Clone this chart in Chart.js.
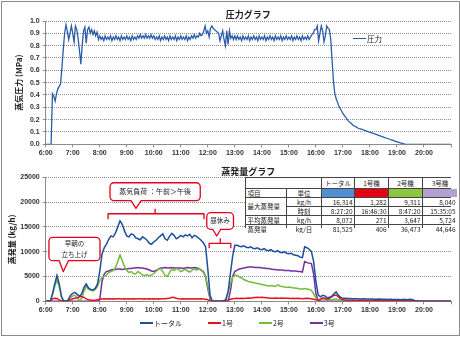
<!DOCTYPE html>
<html lang="ja">
<head>
<meta charset="utf-8">
<title>圧力グラフ・蒸発量グラフ</title>
<script src="https://cdn.jsdelivr.net/npm/chart.js@4.4.1/dist/chart.umd.min.js"></script>
<style>
  body { margin: 0; background: #fff; }
  #frame { position: relative; width: 460px; height: 337px; overflow: hidden; background: #fff;
           font-family: 'Noto Sans CJK JP', sans-serif; color: #222; }
  #frame::after { content: ''; position: absolute; left: 1px; top: 1px; width: 459px; height: 335px;
                  box-sizing: border-box; border: 1px solid #8a8a8a; pointer-events: none; }
  canvas { position: absolute; left: 0; }
  #pressureChart { top: 0; }
  #steamChart { top: 160px; }
  .legend { position: absolute; display: flex; align-items: center; white-space: nowrap; font-size: 7px; }
  .legend .item { display: flex; align-items: center; }
  .legend .swatch { width: 13px; height: 1.5px; margin-right: 1px; }
  #pressureLegend { left: 353px; top: 33px; font-size: 7.5px; }
  #steamLegend { left: 140px; top: 318px; gap: 26px; }
  /* summary table, built as a grid so the row pitch stays exact */
  #stats { position: absolute; left: 245px; top: 177px; width: 206px; height: 51px; display: grid;
           grid-template-columns: 40px 34px 32px 33px 33px 34px;
           grid-template-rows: 10px 8px 8px 8px 8px 8px;
           background: #444; gap: 1px; padding: 1px 1px 0 1px; box-sizing: border-box;
           font-size: 6.5px; line-height: 7px; }
  #stats div { background: #fff; padding: 0 1.5px; white-space: nowrap; overflow: hidden;
               display: flex; align-items: center; }
  #stats div.c { justify-content: center; }
  #stats div.n { justify-content: flex-end; }
</style>
</head>
<body>
<div id="frame">
  <canvas id="pressureChart" width="460" height="160"></canvas>
  <canvas id="steamChart" width="460" height="177"></canvas>
  <div id="pressureLegend" class="legend"></div>
  <div id="steamLegend" class="legend"></div>
  <div id="stats"></div>
</div>
<script>
// x axis: hours of the day
const hourLabels = ['6:00', '7:00', '8:00', '9:00', '10:00', '11:00', '12:00', '13:00',
                    '14:00', '15:00', '16:00', '17:00', '18:00', '19:00', '20:00'];

// 蒸気圧力 (MPa), one reading every 3 minutes from 6:00 to 21:00
const pressure = [
  0, 0, 0, 0, 0, 0.41, 0.39, 0.35, 0.41, 0.45, 0.47, 0.49, 0.62, 0.77, 0.90, 0.97, 0.92, 0.85, 0.90, 0.96,          // 6時
  0.90, 0.83, 0.96, 0.93, 0.86, 0.76, 0.65, 0.80, 0.92, 0.95, 0.82, 0.93, 0.95, 0.90, 0.93, 0.89, 0.92, 0.88, 0.91, 0.85, // 7時
  0.88, 0.85, 0.87, 0.84, 0.88, 0.85, 0.87, 0.85, 0.88, 0.84, 0.87, 0.85, 0.88, 0.85, 0.87, 0.84, 0.88, 0.85, 0.87, 0.85, // 8時
  0.88, 0.85, 0.87, 0.84, 0.88, 0.85, 0.87, 0.85, 0.88, 0.86, 0.89, 0.86, 0.88, 0.86, 0.89, 0.86, 0.88, 0.86, 0.89, 0.86, // 9時
  0.88, 0.85, 0.87, 0.85, 0.88, 0.84, 0.87, 0.85, 0.88, 0.85, 0.87, 0.84, 0.88, 0.85, 0.87, 0.85, 0.88, 0.84, 0.87, 0.85, // 10時
  0.88, 0.85, 0.87, 0.85, 0.88, 0.84, 0.87, 0.85, 0.88, 0.86, 0.89, 0.86, 0.88, 0.87, 0.90, 0.88, 0.89, 0.92, 0.96, 0.90, // 11時
  0.92, 0.87, 0.94, 0.96, 0.94, 0.93, 0.92, 0.91, 0.90, 0.84, 0.88, 0.92, 0.85, 0.80, 0.92, 0.81, 0.92, 0.86, 0.88, 0.85, // 12時
  0.88, 0.85, 0.88, 0.85, 0.87, 0.84, 0.88, 0.85, 0.87, 0.85, 0.88, 0.84, 0.87, 0.85, 0.88, 0.85, 0.87, 0.84, 0.88, 0.85, // 13時
  0.87, 0.85, 0.88, 0.84, 0.87, 0.85, 0.88, 0.85, 0.87, 0.84, 0.88, 0.85, 0.87, 0.85, 0.88, 0.84, 0.87, 0.85, 0.88, 0.85, // 14時
  0.87, 0.85, 0.88, 0.84, 0.87, 0.85, 0.88, 0.85, 0.87, 0.84, 0.88, 0.85, 0.87, 0.85, 0.88, 0.85, 0.87, 0.89, 0.90, 0.93, // 15時
  0.93, 0.96, 0.84, 0.90, 0.96, 0.92, 0.83, 0.88, 0.96, 0.94, 0.93, 0.85, 0.68, 0.51, 0.41, 0.37, 0.34, 0.31, 0.29, 0.27, // 16時
  0.25, 0.235, 0.22, 0.205, 0.19, 0.18, 0.17, 0.16, 0.15, 0.145, 0.14, 0.132, 0.128, 0.125, 0.122, 0.118, 0.113, 0.108, 0.104, 0.10, // 17時
  0.097, 0.094, 0.09, 0.087, 0.083, 0.079, 0.075, 0.071, 0.067, 0.063, 0.059, 0.055, 0.051, 0.047, 0.043, 0.039, 0.035, 0.031, 0.027, 0.023, // 18時
  0.02, 0.017, 0.013, 0.01, 0.007, 0.004, 0.001, 0, 0, 0, 0, 0, 0, 0, 0, 0, 0, 0, 0, 0,     // 19時
  0, 0, 0, 0, 0, 0, 0, 0, 0, 0, 0, 0, 0, 0, 0, 0, 0, 0, 0, 0,                              // 20時
  0
];

// 蒸発量 (kg/h), one reading every 5 minutes from 6:00 to 21:00
const steamTotal = [
  0, 0, 0, 1500, 3500, 5200, 3500, 1000, 0, 0, 300, 1200,                                  // 6時
  1600, 1800, 1400, 1000, 1500, 2800, 3500, 2700, 2400, 2300, 2600, 3500,                   // 7時
  6000, 9500, 10800, 11500, 12500, 13200, 13000, 13800, 15000, 16200, 15500, 14200,         // 8時
  13200, 13000, 13600, 13400, 12800, 12600, 12400, 13000, 12700, 12300, 11700, 11500,       // 9時
  12000, 12300, 12800, 13200, 13600, 12600, 12300, 13100, 13700, 13300, 12600, 12900,       // 10時
  13300, 13000, 13400, 13200, 13500, 12800, 13300, 13100, 12700, 12300, 11800, 11000,       // 11時
  6500, 1200, 0, 0, 0, 0, 0, 100, 300, 2000, 5500, 9000,                                    // 12時
  11300, 11300, 11100, 11000, 11200, 10900, 10800, 11000, 10700, 10600, 10800, 10500,       // 13時
  10400, 10600, 10300, 10200, 10400, 10100, 10000, 10200, 9900, 9800, 10000, 9700,          // 14時
  9600, 9700, 9400, 9300, 9200, 8900, 8800, 11000, 10800, 10500, 10000, 8000,               // 15時
  4000, 1300, 900, 1200, 1100, 700, 800, 1000, 1500, 1900, 1200, 800,                       // 16時
  600, 600, 550, 550, 500, 500, 500, 450, 450, 500, 450, 450,                               // 17時
  450, 450, 400, 400, 450, 400, 400, 400, 350, 400, 350, 350,                               // 18時
  350, 350, 300, 400, 300, 350, 400, 300, 100, 0, 0, 0,                                     // 19時
  0, 0, 0, 0, 0, 0, 0, 0, 0, 0, 0, 0,                                                       // 20時
  0
];
const steamNo1 = [
  0, 0, 100, 500, 600, 550, 300, 100, 0, 0, 100, 300,
  500, 600, 700, 900, 950, 800, 500, 300, 200, 200, 200, 300,
  400, 450, 500, 450, 500, 450, 500, 450, 500, 500, 450, 500,
  450, 500, 450, 500, 450, 500, 500, 450, 500, 450, 500, 450,
  500, 450, 500, 450, 500, 500, 550, 600, 800, 750, 600, 500,
  450, 500, 450, 500, 450, 500, 450, 500, 450, 500, 450, 400,
  300, 100, 0, 0, 0, 0, 0, 0, 0, 200, 400, 500,
  550, 600, 550, 600, 550, 600, 650, 600, 700, 750, 800, 750,
  800, 750, 700, 650, 600, 600, 650, 600, 600, 650, 600, 600,
  600, 550, 600, 550, 600, 550, 500, 550, 600, 550, 500, 400,
  300, 200, 400, 700, 600, 400, 600, 900, 1200, 1280, 900, 500,
  300, 250, 200, 200, 200, 200, 150, 200, 200, 150, 200, 150,
  150, 200, 150, 150, 200, 150, 150, 150, 200, 150, 150, 150,
  150, 150, 150, 150, 150, 150, 100, 50, 0, 0, 0, 0,
  0, 0, 0, 0, 0, 0, 0, 0, 0, 0, 0, 0,
  0
];
const steamNo2 = [
  0, 0, 0, 1200, 3000, 4300, 3000, 800, 0, 0, 100, 700,
  1100, 1200, 700, 100, 550, 2000, 3000, 2400, 2200, 2100, 2400, 3000,
  4200, 4800, 5000, 5300, 5800, 6000, 6200, 6800, 8000, 9300, 8200, 7000,
  6200, 5800, 6000, 5600, 5500, 6000, 5700, 5300, 5200, 5400, 5100, 5300,
  5600, 6000, 6400, 6600, 6000, 5200, 5000, 5800, 6500, 6200, 6600, 6400,
  6000, 6200, 6500, 6100, 5900, 6300, 6500, 6300, 6600, 6400, 5800, 5000,
  3000, 800, 0, 0, 0, 0, 0, 100, 300, 1800, 3500, 4800,
  5300, 5200, 4900, 4700, 4400, 4200, 4000, 3900, 3800, 3700, 3600, 3500,
  3400, 3300, 3200, 3100, 3200, 3100, 3000, 3300, 3100, 3000, 2900, 2800,
  2900, 2800, 2700, 2700, 2600, 2500, 2500, 2600, 2500, 2400, 2200, 1500,
  600, 300, 400, 500, 400, 300, 300, 300, 400, 500, 300, 200,
  150, 150, 150, 150, 100, 100, 100, 100, 100, 100, 100, 100,
  100, 100, 100, 100, 100, 100, 100, 100, 100, 100, 100, 100,
  100, 100, 100, 100, 100, 100, 100, 50, 0, 0, 0, 0,
  0, 0, 0, 0, 0, 0, 0, 0, 0, 0, 0, 0,
  0
];
const steamNo3 = [
  0, 0, 0, 0, 0, 0, 0, 0, 0, 0, 0, 0,
  0, 0, 0, 0, 0, 0, 0, 0, 0, 0, 0, 0,
  300, 4000, 5500, 6000, 6100, 6300, 6400, 6400, 6500, 6500, 6400, 6500,
  6500, 6600, 6600, 6700, 6700, 6800, 6700, 6700, 6600, 6500, 6300, 6100,
  6000, 6200, 6500, 6700, 6700, 6800, 6700, 6700, 6800, 6700, 6700, 6700,
  6700, 6600, 6700, 6800, 6700, 6700, 6800, 6700, 6600, 6300, 6000, 5000,
  2500, 500, 0, 0, 0, 0, 0, 0, 0, 0, 2000, 5000,
  6000, 6300, 6500, 6600, 6700, 6800, 6900, 6900, 6900, 6800, 6800, 6800,
  6700, 6700, 6600, 6600, 6500, 6400, 6400, 6300, 6300, 6300, 6200, 6200,
  6200, 6100, 6100, 6100, 6000, 6000, 5900, 8000, 7800, 7700, 7600, 5500,
  1500, 200, 0, 0, 0, 0, 0, 0, 0, 0, 0, 0,
  0, 0, 0, 0, 0, 0, 0, 0, 0, 0, 0, 0,
  0, 0, 0, 0, 0, 0, 0, 0, 0, 0, 0, 0,
  0, 0, 0, 0, 0, 0, 0, 0, 0, 0, 0, 0,
  0, 0, 0, 0, 0, 0, 0, 0, 0, 0, 0, 0,
  0
];
const seriesNames = ['トータル', '1号', '2号', '3号'];
const seriesColors = ['#1f4e9f', '#e8141c', '#76bc3c', '#7030a0'];

// summary table
const unitNames = ['トータル', '1号機', '2号機', '3号機'];
const unitSwatches = ['#4f8fd3', '#e60012', '#8dc63f', '#b2a1cf'];
const maxRate = ['16,314', '1,282', '9,311', '8,040'];
const maxTime = ['8:27:20', '16:46:30', '8:47:20', '15:35:05'];
const avgRate = ['8,072', '271', '3,647', '5,724'];
const dailyTotal = ['81,525', '406', '36,473', '44,646'];

// callouts on the steam chart, in hours / kg/h
const callouts = [
  { lines: ['早朝の', '立ち上げ'], left: 6.12, right: 8.01, top: 12900, bottom: 8190, tip: [6.65, 5970], base: [6.5, 6.84], size: 6.5 },
  { lines: ['蒸気負荷 ：午前＞午後'], left: 8.38, right: 11.72, top: 23900, bottom: 20300, tip: [9.34, 18750], base: [9.16, 9.53], size: 7 },
  { lines: ['昼休み'], left: 11.96, right: 12.95, top: 17860, bottom: 14520, tip: [12.33, 13170], base: [12.18, 12.48], size: 6.5 }
];
const brackets = [
  { from: 8.31, to: 11.86, mid: 10.05, level: 17650, ends: 16530, peak: 18670 },
  { from: 12.05, to: 12.85, mid: 12.46, level: 11690, ends: 10690, peak: 12700 }
];

const jpFont = "'Noto Sans CJK JP', sans-serif";
const axisGray = '#8c8c8c';
const gridGray = '#8f8f8f';
Chart.defaults.font.family = jpFont;
Chart.defaults.color = '#333';

const toPoints = (vals, stepMin) => vals.map((v, i) => ({ x: 6 + i * stepMin / 60, y: v }));

function timeAxis(height) {
  return {
    type: 'linear', min: 6, max: 21,
    afterFit: s => { s.height = height; },
    border: { display: true, color: axisGray },
    grid: { drawOnChartArea: false, drawTicks: true, tickLength: 3, color: axisGray },
    ticks: {
      stepSize: 1, padding: 2, maxRotation: 0, autoSkip: false, color: '#333',
      font: { size: 7, weight: 'bold', family: 'Liberation Sans' },
      callback: v => hourLabels[v - 6] ?? ''
    }
  };
}

function valueAxis(max, step, fmt, title, titlePad) {
  return {
    min: 0, max: max,
    afterFit: s => { s.width = 45.7; },
    border: { display: true, color: axisGray, dash: [1, 1] },
    grid: { color: gridGray, tickLength: 3, tickColor: axisGray, tickBorderDash: [] },
    ticks: {
      stepSize: step, padding: 3, color: '#333',
      font: { size: 7, weight: 'bold', family: 'Liberation Sans' },
      callback: fmt
    },
    title: { display: true, text: title, color: '#222', padding: { top: titlePad, bottom: 0 },
             font: { size: 8, weight: 'bold', family: jpFont } }
  };
}

function chartTitle(text, top, bottom) {
  return { display: true, text: text, fullSize: false, color: '#222',
           font: { size: 9, weight: 'bold', family: jpFont }, padding: { top: top, bottom: bottom } };
}

// 圧力グラフ
new Chart(document.getElementById('pressureChart'), {
  type: 'line',
  data: {
    datasets: [{
      label: '圧力', data: toPoints(pressure, 3),
      borderColor: '#2a5caa', borderWidth: 1.3, pointRadius: 0, tension: 0
    }]
  },
  options: {
    responsive: false, animation: false,
    layout: { padding: { left: 0, right: 9, top: 0, bottom: 0 } },
    plugins: { legend: { display: false }, tooltip: { enabled: false },
               title: chartTitle('圧力グラフ', 9.6, 0.6) },
    scales: {
      x: timeAxis(15.7),
      y: valueAxis(1, 0.1, v => v.toFixed(1), '蒸気圧力 (MPa)', 14.2)
    }
  }
});

// callouts and brackets drawn over the steam lines
const calloutPlugin = {
  id: 'callouts',
  afterDraw(chart) {
    const { ctx, scales: { x, y } } = chart;
    ctx.save();
    ctx.strokeStyle = '#e5001c';
    ctx.lineWidth = 1.3;
    ctx.lineJoin = 'round';
    brackets.forEach(b => {
      const x0 = x.getPixelForValue(b.from), x1 = x.getPixelForValue(b.to), xm = x.getPixelForValue(b.mid);
      const yl = y.getPixelForValue(b.level), ye = y.getPixelForValue(b.ends), yp = y.getPixelForValue(b.peak);
      ctx.beginPath();
      ctx.moveTo(x0, ye); ctx.lineTo(x0, yl); ctx.lineTo(x1, yl); ctx.lineTo(x1, ye);
      ctx.moveTo(xm, yl); ctx.lineTo(xm, yp);
      ctx.stroke();
    });
    callouts.forEach(c => {
      const x0 = x.getPixelForValue(c.left), x1 = x.getPixelForValue(c.right);
      const y0 = y.getPixelForValue(c.top), y1 = y.getPixelForValue(c.bottom);
      const tx = x.getPixelForValue(c.tip[0]), ty = y.getPixelForValue(c.tip[1]);
      const b0 = x.getPixelForValue(c.base[0]), b1 = x.getPixelForValue(c.base[1]);
      const r = 4;
      ctx.beginPath();
      ctx.moveTo(x0 + r, y0);
      ctx.lineTo(x1 - r, y0);
      ctx.arcTo(x1, y0, x1, y0 + r, r);
      ctx.lineTo(x1, y1 - r);
      ctx.arcTo(x1, y1, x1 - r, y1, r);
      ctx.lineTo(b1, y1);
      ctx.lineTo(tx, ty);
      ctx.lineTo(b0, y1);
      ctx.lineTo(x0 + r, y1);
      ctx.arcTo(x0, y1, x0, y1 - r, r);
      ctx.lineTo(x0, y0 + r);
      ctx.arcTo(x0, y0, x0 + r, y0, r);
      ctx.closePath();
      ctx.fillStyle = '#fff';
      ctx.fill();
      ctx.stroke();
      ctx.fillStyle = '#222';
      ctx.font = c.size + 'px ' + jpFont;
      ctx.textAlign = 'center';
      ctx.textBaseline = 'middle';
      const cy = (y0 + y1) / 2, gap = 10.5;
      c.lines.forEach((line, i) => {
        ctx.fillText(line, (x0 + x1) / 2, cy + (i - (c.lines.length - 1) / 2) * gap);
      });
    });
    ctx.restore();
  }
};

// 蒸発量グラフ
const steamSeries = [steamTotal, steamNo1, steamNo2, steamNo3];
new Chart(document.getElementById('steamChart'), {
  type: 'line',
  data: {
    datasets: steamSeries.map((vals, i) => ({
      label: seriesNames[i], data: toPoints(vals, 5),
      borderColor: seriesColors[i], borderWidth: 1.5, pointRadius: 0, tension: 0
    }))
  },
  options: {
    responsive: false, animation: false,
    layout: { padding: { left: 0, right: 9, top: 0, bottom: 0 } },
    plugins: { legend: { display: false }, tooltip: { enabled: false },
               title: chartTitle('蒸発量グラフ', 6.5, 0) },
    scales: {
      x: timeAxis(35.7),
      y: valueAxis(25000, 5000, v => String(v), '蒸発量 (kg/h)', 6.7)
    }
  },
  plugins: [calloutPlugin]
});

// legends
function legendItem(name, color) {
  return '<span class="item"><span class="swatch" style="background:' + color + '"></span>' + name + '</span>';
}
document.getElementById('pressureLegend').innerHTML = legendItem('圧力', '#2a5caa');
document.getElementById('steamLegend').innerHTML =
  seriesNames.map((n, i) => legendItem(n, seriesColors[i])).join('');

// summary table: header, swatches, 最大蒸発量 (2 rows), 平均蒸発量, 蒸発量
const cell = (text, cls, extra) => '<div class="' + (cls || '') + '"' + (extra ? ' style="' + extra + '"' : '') + '>' + text + '</div>';
const row = vals => vals.map(v => cell(v, 'n')).join('');
document.getElementById('stats').innerHTML =
  cell('', '', 'grid-column: 1 / 3') + unitNames.map(n => cell(n, 'c')).join('') +
  cell('項目') + cell('単位', 'c') + unitSwatches.map(c => cell('', '', 'background:' + c)).join('') +
  cell('最大蒸発量', '', 'grid-row: 3 / 5') + cell('kg/h', 'c') + row(maxRate) +
  cell('時刻', 'c') + row(maxTime) +
  cell('平均蒸発量') + cell('kg/h', 'c') + row(avgRate) +
  cell('蒸発量') + cell('kg/日', 'c') + row(dailyTotal);
</script>
</body>
</html>
